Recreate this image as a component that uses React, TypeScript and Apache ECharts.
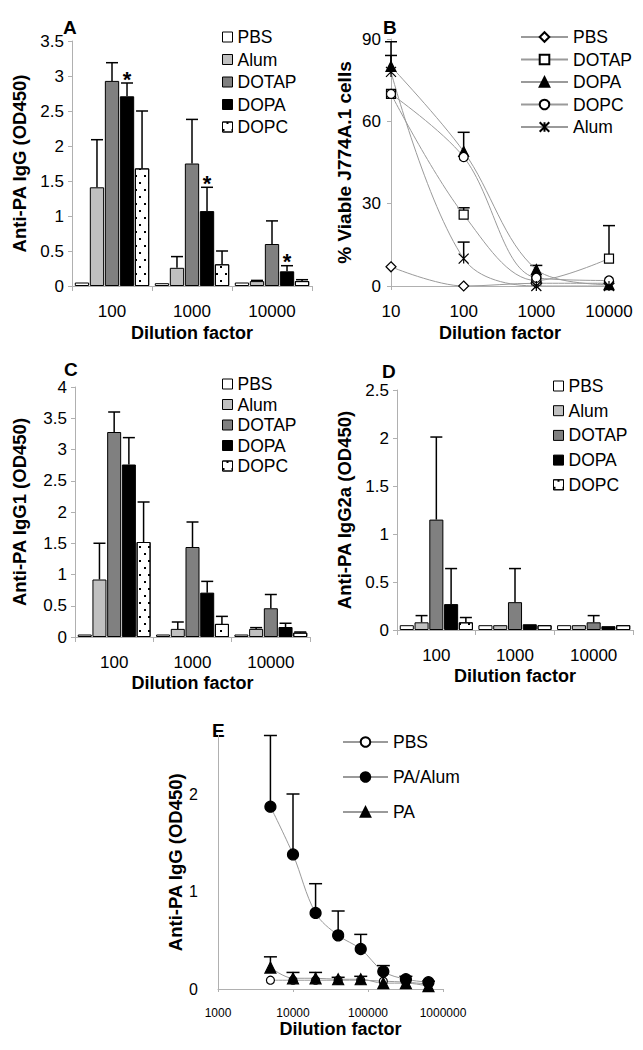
import React, { useEffect, useRef } from "react";
import * as echarts from "echarts";

const FONT = "'Liberation Sans', Arial, Helvetica, sans-serif";

// ---------- shared categories ----------
const groupNames = ["PBS", "Alum", "DOTAP", "DOPA", "DOPC"];
const dilutionCats = ["100", "1000", "10000"];

// ---------- Panel A: Anti-PA IgG (OD450) ----------
const aPBS = [0.05, 0.04, 0.05];
const aAlum = [1.41, 0.26, 0.07];
const aDOTAP = [2.93, 1.75, 0.6];
const aDOPA = [2.71, 1.07, 0.21];
const aDOPC = [1.68, 0.31, 0.07];
const aPBSErr = [null, null, null];
const aAlumErr = [2.09, 0.42, 0.08];
const aDOTAPErr = [3.19, 2.38, 0.93];
const aDOPAErr = [2.9, 1.41, 0.29];
const aDOPCErr = [2.5, 0.5, 0.09];
const aDOPAStar = [1, 1, 1];

// ---------- Panel C: Anti-PA IgG1 (OD450) ----------
const cPBS = [0.04, 0.04, 0.04];
const cAlum = [0.92, 0.13, 0.13];
const cDOTAP = [3.28, 1.44, 0.46];
const cDOPA = [2.76, 0.71, 0.16];
const cDOPC = [1.52, 0.21, 0.07];
const cPBSErr = [null, null, null];
const cAlumErr = [1.5, 0.24, 0.15];
const cDOTAPErr = [3.6, 1.84, 0.68];
const cDOPAErr = [3.19, 0.89, 0.22];
const cDOPCErr = [2.16, 0.33, 0.08];

// ---------- Panel D: Anti-PA IgG2a (OD450) ----------
const dPBS = [0.05, 0.05, 0.05];
const dAlum = [0.08, 0.05, 0.05];
const dDOTAP = [1.15, 0.29, 0.08];
const dDOPA = [0.27, 0.06, 0.04];
const dDOPC = [0.08, 0.05, 0.05];
const dPBSErr = [null, null, null];
const dAlumErr = [0.15, null, null];
const dDOTAPErr = [2.01, 0.64, 0.15];
const dDOPAErr = [0.64, null, null];
const dDOPCErr = [0.13, null, null];

// ---------- Panel B: % Viable J774A.1 cells ----------
const bDilution = [10, 100, 1000, 10000];
const bNames = ["PBS", "DOTAP", "DOPA", "DOPC", "Alum"];
const bPBS = [7, 0, 1, 1];
const bDOTAP = [70, 26, 2, 10];
const bDOPA = [80, 49, 6, 0.5];
const bDOPC = [70, 47, 3, 2];
const bAlum = [78, 10, 0, 0];
const bPBSErr = [null, null, null, null];
const bDOTAPErr = [null, 28.5, null, 22];
const bDOPAErr = [89, 56, 7.5, null];
const bDOPCErr = [null, null, null, null];
const bAlumErr = [84, 16, 1, null];

// ---------- Panel E: Anti-PA IgG (OD450) ----------
const eDilution = [5000, 10000, 20000, 40000, 80000, 160000, 320000, 640000];
const eNames = ["PBS", "PA/Alum", "PA"];
const ePBS = [0.09, 0.09, 0.09, 0.09, 0.09, 0.08, 0.07, 0.05];
const ePAAlum = [1.87, 1.38, 0.78, 0.55, 0.41, 0.18, 0.1, 0.07];
const ePA = [0.22, 0.11, 0.11, 0.1, 0.1, 0.06, 0.06, 0.03];
const ePBSErr = [null, null, null, null, null, null, null, null];
const ePAAlumErr = [2.6, 2.0, 1.08, 0.8, 0.56, 0.24, 0.13, 0.08];
const ePAErr = [0.33, 0.17, 0.17, 0.12, 0.13, null, null, null];

// ---------- styles ----------
const AXIS_GRAY = "#b0b0b0";
const LINE_GRAY = "#9a9a9a";
const TICK_FS = 17;
const LEGEND_FS = 17.5;
const barFills = ["#ffffff", "#c0c0c0", "#808080", "#000000", "#ffffff"];
const dotDecal = {
  symbol: "rect",
  symbolSize: 1,
  color: "#000",
  backgroundColor: "#ffffff",
  dashArrayX: [
    [1.5, 6.5],
    [0, 4, 1.5, 2.5],
  ],
  dashArrayY: [1.5, 5],
  rotation: 0,
};
const STAR_PATH = "path://M0,0L10,10M10,0L0,10M5,0L5,10";

const CAT_GAP = 0.07;
const BAR_GAP = 0.05;

function barErrRender(nBars: number, capW: number) {
  return (params: any, api: any) => {
    const ci = api.value(0);
    const gi = api.value(1);
    const v = api.value(2);
    const e = api.value(3);
    const star = api.value(4);
    const band = api.size([1, 0])[0];
    const avail = band * (1 - CAT_GAP);
    const bw = avail / (nBars + (nBars - 1) * BAR_GAP);
    const center = api.coord([ci, 0])[0];
    const x = center - avail / 2 + bw / 2 + gi * bw * (1 + BAR_GAP);
    const y0 = api.coord([ci, v])[1];
    const y1 = api.coord([ci, e])[1];
    const st = { stroke: "#000", lineWidth: 1.5 };
    const children: any[] = [
      { type: "line", shape: { x1: x, y1: y0, x2: x, y2: y1 }, style: st },
      { type: "line", shape: { x1: x - capW / 2, y1: y1, x2: x + capW / 2, y2: y1 }, style: st },
    ];
    if (star) {
      children.push({
        type: "text",
        x: x,
        y: y1 - 4,
        style: {
          text: "*",
          fontSize: 22,
          fontWeight: "bold",
          fontFamily: FONT,
          fill: "#000",
          align: "center",
          verticalAlign: "middle",
        },
      });
    }
    return { type: "group", children };
  };
}

function lineErrRender(capW: number) {
  return (params: any, api: any) => {
    const xv = api.value(0);
    const v = api.value(1);
    const e = api.value(2);
    const p0 = api.coord([xv, v]);
    const p1 = api.coord([xv, e]);
    const st = { stroke: "#000", lineWidth: 1.5 };
    return {
      type: "group",
      children: [
        { type: "line", shape: { x1: p0[0], y1: p0[1], x2: p1[0], y2: p1[1] }, style: st },
        { type: "line", shape: { x1: p1[0] - capW / 2, y1: p1[1], x2: p1[0] + capW / 2, y2: p1[1] }, style: st },
      ],
    };
  };
}

const tickLabel = { fontSize: TICK_FS, fontFamily: FONT, color: "#000" };
const titleStyle = { fontSize: 18.5, fontWeight: "bold" as const, fontFamily: FONT, color: "#000" };
const xTitleStyle = { fontSize: 18, fontWeight: "bold" as const, fontFamily: FONT, color: "#000" };
const legendText = { fontSize: LEGEND_FS, fontFamily: FONT, color: "#000", lineHeight: 16 };

function letterGraphic(letter: string, x: number, y: number) {
  return {
    type: "text",
    left: x,
    top: y,
    style: { text: letter, fontSize: 19, fontWeight: "bold", fontFamily: FONT, fill: "#000" },
  };
}

function barPanelOption(cfg: {
  vals: number[][];
  errs: (number | null)[][];
  stars: number[][];
  grid: any;
  yMax: number;
  yName: string;
  yNameGap: number;
  xNameGap: number;
  letter: string;
  letterPos: [number, number];
  legend: { left: number; top: number; gap: number };
}) {
  const errData: any[] = [];
  cfg.errs.forEach((arr, gi) =>
    arr.forEach((e, ci) => {
      if (e !== null) errData.push([ci, gi, cfg.vals[gi][ci], e, cfg.stars[gi][ci]]);
    })
  );
  return {
    animation: false,
    graphic: [letterGraphic(cfg.letter, cfg.letterPos[0], cfg.letterPos[1])],
    legend: {
      orient: "vertical",
      left: cfg.legend.left,
      top: cfg.legend.top,
      padding: 0,
      itemWidth: 10,
      itemHeight: 10,
      itemGap: cfg.legend.gap,
      icon: "rect",
      selectedMode: false,
      data: groupNames,
      textStyle: legendText,
      itemStyle: { borderColor: "#000", borderWidth: 1 },
    },
    grid: cfg.grid,
    xAxis: {
      type: "category",
      data: dilutionCats,
      name: "Dilution factor",
      nameLocation: "middle",
      nameGap: cfg.xNameGap,
      nameTextStyle: xTitleStyle,
      axisLine: { show: true, lineStyle: { color: AXIS_GRAY } },
      axisTick: { show: true, length: 5, lineStyle: { color: AXIS_GRAY } },
      axisLabel: { ...tickLabel, margin: 17 },
    },
    yAxis: {
      type: "value",
      min: 0,
      max: cfg.yMax,
      interval: 0.5,
      name: cfg.yName,
      nameLocation: "middle",
      nameRotate: 90,
      nameGap: cfg.yNameGap,
      nameTextStyle: titleStyle,
      axisLine: { show: true, lineStyle: { color: AXIS_GRAY } },
      axisTick: { show: true, length: 4, lineStyle: { color: AXIS_GRAY } },
      axisLabel: { ...tickLabel, margin: 8 },
      splitLine: { show: false },
    },
    series: [
      ...groupNames.map((name, gi) => ({
        type: "bar",
        name,
        data: cfg.vals[gi],
        barGap: BAR_GAP * 100 + "%",
        barCategoryGap: CAT_GAP * 100 + "%",
        itemStyle: {
          color: barFills[gi],
          borderColor: "#000",
          borderWidth: 1,
          ...(name === "DOPC" ? { decal: dotDecal } : {}),
        },
      })),
      {
        type: "custom",
        name: "err",
        renderItem: barErrRender(groupNames.length, 12),
        data: errData,
        encode: { x: 0, y: 3 },
        z: 5,
        silent: true,
      },
    ],
  };
}

const lineSymbols: Record<string, any> = {
  PBS: { symbol: "diamond", size: 10, fill: "#fff" },
  DOTAP: { symbol: "rect", size: 9, fill: "#fff" },
  DOPA: { symbol: "triangle", size: 10, fill: "#000" },
  DOPC: { symbol: "circle", size: 9, fill: "#fff" },
  Alum: { symbol: STAR_PATH, size: 10, fill: "#000" },
};

function makeLineSeries(name: string, xs: number[], ys: number[], sym: any) {
  return {
    type: "line",
    name,
    data: xs.map((x, i) => [x, ys[i]]),
    smooth: 0.35,
    symbol: sym.symbol,
    symbolSize: sym.size,
    showSymbol: true,
    lineStyle: { color: LINE_GRAY, width: 1 },
    itemStyle: { color: sym.fill, borderColor: "#000", borderWidth: 1.2 },
    z: 3,
  };
}

function errSeries(xs: number[], ys: number[], errs: (number | null)[], capW: number) {
  const data: any[] = [];
  xs.forEach((x, i) => {
    if (errs[i] !== null) data.push([x, ys[i], errs[i]]);
  });
  return { type: "custom", name: "err", renderItem: lineErrRender(capW), data, encode: { x: 0, y: 2 }, z: 2, silent: true };
}

const logLabel = (v: number) => String(Math.round(v));

function optionB() {
  const vals = [bPBS, bDOTAP, bDOPA, bDOPC, bAlum];
  const errs = [bPBSErr, bDOTAPErr, bDOPAErr, bDOPCErr, bAlumErr];
  return {
    animation: false,
    graphic: [letterGraphic("B", 383, 18)],
    legend: {
      orient: "vertical",
      left: 520,
      top: 28,
      padding: 0,
      itemWidth: 47,
      itemHeight: 12,
      itemGap: 4.5,
      selectedMode: false,
      data: bNames,
      textStyle: legendText,
    },
    grid: { left: 391, top: 39, width: 218, height: 247 },
    xAxis: {
      type: "log",
      logBase: 10,
      min: 10,
      max: 10000,
      name: "Dilution factor",
      nameLocation: "middle",
      nameGap: 38,
      nameTextStyle: xTitleStyle,
      axisLine: { show: true, lineStyle: { color: AXIS_GRAY } },
      axisTick: { show: true, length: 4, lineStyle: { color: AXIS_GRAY } },
      axisLabel: { ...tickLabel, margin: 17, formatter: logLabel },
      splitLine: { show: false },
      minorTick: { show: false },
    },
    yAxis: {
      type: "value",
      min: 0,
      max: 90,
      interval: 30,
      name: "% Viable J774A.1 cells",
      nameLocation: "middle",
      nameRotate: 90,
      nameGap: 37,
      nameTextStyle: { ...titleStyle, fontSize: 19 },
      axisLine: { show: true, lineStyle: { color: AXIS_GRAY } },
      axisTick: { show: true, length: 4, lineStyle: { color: AXIS_GRAY } },
      axisLabel: { ...tickLabel, margin: 10 },
      splitLine: { show: false },
    },
    series: [
      ...bNames.map((n, i) => errSeries(bDilution, vals[i], errs[i], 12)),
      ...bNames.map((n, i) => makeLineSeries(n, bDilution, vals[i], lineSymbols[n])),
    ],
  };
}

const eSymbols: Record<string, any> = {
  PBS: { symbol: "circle", size: 8, fill: "#fff" },
  "PA/Alum": { symbol: "circle", size: 11, fill: "#000" },
  PA: { symbol: "triangle", size: 11, fill: "#000" },
};

function optionE() {
  const vals = [ePBS, ePAAlum, ePA];
  const errs = [ePBSErr, ePAAlumErr, ePAErr];
  return {
    animation: false,
    graphic: [letterGraphic("E", 212, 721)],
    legend: {
      orient: "vertical",
      left: 342,
      top: 733,
      padding: 0,
      itemWidth: 45,
      itemHeight: 12,
      itemGap: 17,
      selectedMode: false,
      data: eNames,
      textStyle: legendText,
    },
    grid: { left: 218, top: 735.5, width: 225, height: 253.5 },
    xAxis: {
      type: "log",
      logBase: 10,
      min: 1000,
      max: 1000000,
      name: "Dilution factor",
      nameLocation: "middle",
      nameGap: 30,
      nameTextStyle: { ...xTitleStyle, padding: [0, 0, 0, 20] },
      axisLine: { show: true, lineStyle: { color: AXIS_GRAY } },
      axisTick: { show: true, length: 3, lineStyle: { color: AXIS_GRAY } },
      axisLabel: { fontSize: 12, fontFamily: FONT, color: "#000", margin: 18, formatter: logLabel },
      splitLine: { show: false },
    },
    yAxis: {
      type: "value",
      min: 0,
      max: 2.6,
      interval: 1,
      name: "Anti-PA IgG (OD450)",
      nameLocation: "middle",
      nameRotate: 90,
      nameGap: 17,
      nameTextStyle: titleStyle,
      axisLine: { show: true, lineStyle: { color: AXIS_GRAY } },
      axisTick: { show: false },
      axisLabel: {
        ...tickLabel,
        fontSize: 16,
        margin: 20,
        formatter: (v: number) => (Number.isInteger(v) ? String(v) : ""),
      },
      splitLine: { show: false },
    },
    series: [
      ...eNames.map((n, i) => errSeries(eDilution, vals[i], errs[i], 13)),
      ...eNames.map((n, i) => makeLineSeries(n, eDilution, vals[i], eSymbols[n])),
    ],
  };
}

function buildOptions() {
  const optA = barPanelOption({
    vals: [aPBS, aAlum, aDOTAP, aDOPA, aDOPC],
    errs: [aPBSErr, aAlumErr, aDOTAPErr, aDOPAErr, aDOPCErr],
    stars: [[0, 0, 0], [0, 0, 0], [0, 0, 0], aDOPAStar, [0, 0, 0]],
    grid: { left: 72, top: 41, width: 240, height: 245 },
    yMax: 3.5,
    yName: "Anti-PA IgG (OD450)",
    yNameGap: 43,
    xNameGap: 38,
    letter: "A",
    letterPos: [63, 18],
    legend: { left: 222, top: 28, gap: 4.5 },
  });
  const optC = barPanelOption({
    vals: [cPBS, cAlum, cDOTAP, cDOPA, cDOPC],
    errs: [cPBSErr, cAlumErr, cDOTAPErr, cDOPAErr, cDOPCErr],
    stars: [[0, 0, 0], [0, 0, 0], [0, 0, 0], [0, 0, 0], [0, 0, 0]],
    grid: { left: 75, top: 387, width: 235, height: 250 },
    yMax: 4,
    yName: "Anti-PA IgG1 (OD450)",
    yNameGap: 46,
    xNameGap: 37,
    letter: "C",
    letterPos: [64, 360],
    legend: { left: 222, top: 375, gap: 2.5 },
  });
  const optD = barPanelOption({
    vals: [dPBS, dAlum, dDOTAP, dDOPA, dDOPC],
    errs: [dPBSErr, dAlumErr, dDOTAPErr, dDOPAErr, dDOPCErr],
    stars: [[0, 0, 0], [0, 0, 0], [0, 0, 0], [0, 0, 0], [0, 0, 0]],
    grid: { left: 397, top: 390, width: 236, height: 240 },
    yMax: 2.5,
    yName: "Anti-PA IgG2a (OD450)",
    yNameGap: 43,
    xNameGap: 37,
    letter: "D",
    letterPos: [382, 362],
    legend: { left: 553, top: 377, gap: 6.7 },
  });
  return [optA, optionB(), optC, optD, optionE()];
}

export default function App() {
  const refs = useRef<(HTMLDivElement | null)[]>([]);
  useEffect(() => {
    const options = buildOptions();
    const charts = options.map((opt, i) => {
      const c = echarts.init(refs.current[i] as HTMLDivElement, null, { renderer: "svg" });
      c.setOption(opt as any);
      return c;
    });
    return () => charts.forEach((c) => c.dispose());
  }, []);
  return (
    <div style={{ position: "absolute", left: 0, top: 0, width: 643, height: 1050, background: "#fff" }}>
      {[0, 1, 2, 3, 4].map((i) => (
        <div
          key={i}
          ref={(el) => {
            refs.current[i] = el;
          }}
          style={{ position: "absolute", left: 0, top: 0, width: 643, height: 1050 }}
        />
      ))}
    </div>
  );
}
